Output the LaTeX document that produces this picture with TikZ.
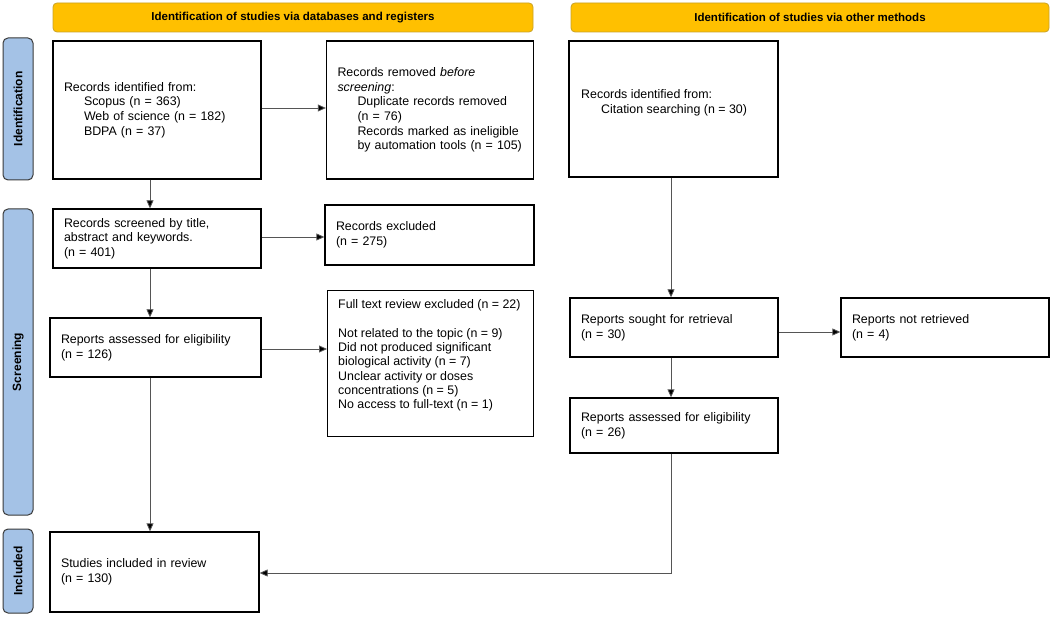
\documentclass[tikz,border=0pt]{standalone}
\usepackage{fontspec}
\setmainfont{Liberation Sans}
\usetikzlibrary{arrows.meta,calc}
\definecolor{hdrfill}{HTML}{FFC000}
\definecolor{hdrdraw}{HTML}{C9A227}
\definecolor{sidefill}{HTML}{A4C2E6}
\definecolor{sidedraw}{HTML}{3A3A3A}
\definecolor{linegray}{HTML}{555555}
\begin{document}
\begin{tikzpicture}[x=1pt,y=-1pt,
 box/.style={draw=black, line width=1.3pt, fill=white, inner xsep=11pt, inner ysep=0pt, align=left, font=\fontsize{12.4}{14.6}\selectfont},
 txt/.style={inner sep=0pt, align=left, font=\fontsize{12.4}{14.6}\selectfont},
 hdr/.style={draw=hdrdraw, fill=hdrfill, rounded corners=4pt, line width=0.8pt, font=\bfseries\fontsize{11.5}{14}\selectfont, minimum height=29pt, inner sep=0pt},
 side/.style={draw=sidedraw, fill=sidefill, rounded corners=5pt, line width=1pt, rotate=90, font=\bfseries\fontsize{12}{14}\selectfont, minimum height=30pt, inner sep=0pt},
 arr/.style={draw=linegray, line width=0.8pt, -{Triangle[length=8pt,width=7pt,fill=black]}},
 ln/.style={draw=linegray, line width=0.8pt}]
\useasboundingbox (0,0) rectangle (1051,617);

% headers
\node[hdr, minimum width=480pt] (h1) at (293,17.5) {Identification of studies via databases and registers};
\node[hdr, minimum width=478pt] (h2) at (810,17.5) {Identification of studies via other methods};

% side labels
\node[side, minimum width=142pt] (sI) at (18,109) {Identification};
\node[side, minimum width=306pt] (sS) at (18,362) {Screening};
\node[side, minimum width=84pt] (sN) at (18,571) {Included};

% boxes
\node[box, minimum width=208pt, minimum height=138pt, text width=186pt, font=\fontsize{12.4}{14.8}\selectfont] (A) at (157,110)
 {Records identified from:\\
  \hspace*{20pt}Scopus (n = 363)\\
  \hspace*{20pt}Web of science (n = 182)\\
  \hspace*{20pt}BDPA (n = 37)};
\node[box, minimum width=207pt, minimum height=138pt, text width=185pt] (B) at (430,110)
 {Records removed \textit{before}\\
  \textit{screening}:\\
  \hspace*{20pt}Duplicate records removed\\
  \hspace*{20pt}(n = 76)\\
  \hspace*{20pt}Records marked as ineligible\\
  \hspace*{20pt}by automation tools (n = 105)};
\node[box, minimum width=209pt, minimum height=136pt, text width=187pt] (D) at (673.5,109) {};
\node[txt, anchor=west] (Dt) at (581,102.5)
 {Records identified from:\\
  \hspace*{20pt}Citation searching (n = 30)};

\node[box, minimum width=208pt, minimum height=59pt, text width=186pt] (C) at (157,238.5)
 {Records screened by title,\\
  abstract and keywords.\\
  (n = 401)};
\node[box, minimum width=209pt, minimum height=60pt, text width=187pt] (E) at (429.5,235)
 {Records excluded\\
  (n = 275)};
\node[box, minimum width=211pt, minimum height=59pt, text width=189pt] (F) at (155.5,347.5)
 {Reports assessed for eligibility\\
  (n = 126)};
\node[box, minimum width=206pt, minimum height=146pt, anchor=north west] (G) at (327,290) {};
\node[txt, anchor=north west, font=\fontsize{12.4}{14.3}\selectfont] (Gt) at (338,299.5)
 {Full text review excluded (n = 22)\\[14.3pt]
  Not related to the topic (n = 9)\\
  Did not produced significant\\
  biological activity (n = 7)\\
  Unclear activity or doses\\
  concentrations (n = 5)\\
  No access to full-text (n = 1)};

\node[box, minimum width=208pt, minimum height=59pt, text width=186pt] (H) at (674,327.5)
 {Reports sought for retrieval\\
  (n = 30)};
\node[box, minimum width=208pt, minimum height=59pt, text width=186pt] (I) at (945,327.5)
 {Reports not retrieved\\
  (n = 4)};
\node[box, minimum width=208pt, minimum height=55pt, text width=186pt] (J) at (674,425.5)
 {Reports assessed for eligibility\\
  (n = 26)};
\node[box, minimum width=209pt, minimum height=80pt, text width=187pt] (S) at (154.5,572)
 {Studies included in review\\
  (n = 130)};

% connectors
\coordinate (lx) at (150,0);
\coordinate (rx) at (671,0);
\draw[arr] ([yshift=2pt]A.east) -- ([yshift=2pt]A.east -| B.west);
\draw[arr] (A.south -| lx) -- (C.north -| lx);
\draw[arr] ([yshift=1.5pt]C.east) -- ([yshift=1.5pt]C.east -| E.west);
\draw[arr] (C.south -| lx) -- (F.north -| lx);
\draw[arr] ([yshift=-1.5pt]F.east) -- ([yshift=-1.5pt]F.east -| G.west);
\draw[arr] (F.south -| lx) -- (S.north -| lx);
\draw[arr] (D.south -| rx) -- (H.north -| rx);
\draw[arr] ([yshift=-4.5pt]H.east) -- ([yshift=-4.5pt]H.east -| I.west);
\draw[arr] (H.south -| rx) -- (J.north -| rx);
\draw[arr] (J.south -| rx) |- ([yshift=-1pt]S.east);
\end{tikzpicture}
\end{document}
